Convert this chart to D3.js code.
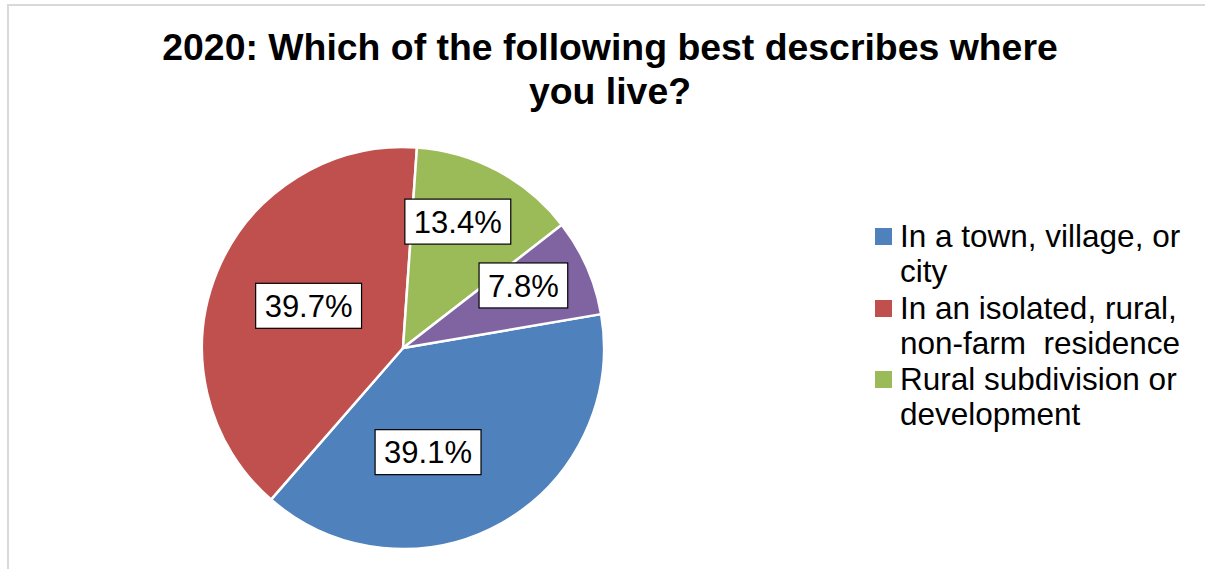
<!DOCTYPE html>
<html>
<head>
<meta charset="utf-8">
<script src="https://cdn.jsdelivr.net/npm/d3@7"></script>
<style>
  html, body { margin: 0; padding: 0; background: #fff; }
  svg { display: block; }
</style>
</head>
<body>
<svg id="chart" width="1205" height="569"></svg>
<script>
// data
const categories = [
  "In a town, village, or city",
  "In an isolated, rural, non-farm  residence",
  "Rural subdivision or development",
  "On a farm"
];
const values = [39.1, 39.7, 13.4, 7.8];
const colors = ["#4F81BD", "#C0504D", "#9BBB59", "#8064A2"];
// legend text as wrapped in the original (4th entry is cut off there)
const legendLines = [
  ["In a town, village, or", "city"],
  ["In an isolated, rural,", "non-farm  residence"],
  ["Rural subdivision or", "development"]
];
const titleLines = ["2020: Which of the following best describes where", "you live?"];

const width = 1205, height = 569;
const cx = 403, cy = 348, radius = 201;
const font = "Arial, 'Liberation Sans', sans-serif";

// label nudges so boxes land where Excel's best-fit put them
const labelNudge = [[-34, -1], [17, 4], [-2, -20], [10, -14]];

const svg = d3.select('#chart');

// chart frame
svg.append('rect')
  .attr('x', 8).attr('y', 5)
  .attr('width', width + 20).attr('height', height + 20)
  .attr('fill', '#fff')
  .attr('stroke', '#d9d9d9')
  .attr('stroke-width', 2);

// title
svg.append('text')
  .attr('x', 610)
  .attr('y', 60)
  .attr('text-anchor', 'middle')
  .style('font-family', font)
  .style('font-size', '37.4px')
  .style('font-weight', 'bold')
  .style('fill', '#000')
  .selectAll('tspan')
  .data(titleLines)
  .join('tspan')
  .attr('x', 610)
  .attr('dy', (d, i) => i === 0 ? 0 : 44)
  .text(d => d);

// pie
const pie = d3.pie()
  .sort(null)
  .startAngle(80.3 * Math.PI / 180)
  .endAngle(80.3 * Math.PI / 180 + 2 * Math.PI);

const arcs = pie(values);
const arc = d3.arc().innerRadius(0).outerRadius(radius);
const labelArc = d3.arc().innerRadius(radius * 0.6).outerRadius(radius * 0.6);

const g = svg.append('g')
  .attr('transform', `translate(${cx},${cy})`);

g.selectAll('path')
  .data(arcs)
  .join('path')
  .attr('d', arc)
  .attr('fill', (d, i) => colors[i])
  .attr('stroke', '#fff')
  .attr('stroke-width', 2.5)
  .attr('stroke-linejoin', 'round');

// data labels
const labels = g.selectAll('g.lbl')
  .data(arcs)
  .join('g')
  .attr('class', 'lbl')
  .attr('transform', (d, i) => {
    const [x, y] = labelArc.centroid(d);
    return `translate(${x + labelNudge[i][0]},${y + labelNudge[i][1]})`;
  });

labels.append('rect')
  .attr('fill', '#fff')
  .attr('stroke', '#000')
  .attr('stroke-width', 1.2);

labels.append('text')
  .attr('text-anchor', 'middle')
  .attr('dy', '0.36em')
  .style('font-family', font)
  .style('font-size', '31px')
  .style('fill', '#000')
  .text(d => d.data.toFixed(1) + '%');

labels.each(function() {
  const t = d3.select(this).select('text').node().getBBox();
  d3.select(this).select('rect')
    .attr('x', -t.width / 2 - 9)
    .attr('y', -22.5)
    .attr('width', t.width + 18)
    .attr('height', 45);
});

// legend
const legend = svg.append('g')
  .attr('transform', 'translate(875,0)');

const itemY = [247, 319, 390];
const item = legend.selectAll('g')
  .data(legendLines)
  .join('g')
  .attr('transform', (d, i) => `translate(0,${itemY[i]})`);

item.append('rect')
  .attr('x', 0)
  .attr('y', -19)
  .attr('width', 17)
  .attr('height', 17)
  .attr('fill', (d, i) => colors[i]);

item.append('text')
  .style('font-family', font)
  .style('font-size', '31.5px')
  .style('fill', '#000')
  .style('white-space', 'pre')
  .selectAll('tspan')
  .data(d => d)
  .join('tspan')
  .attr('x', 25)
  .attr('y', (d, i) => i * 35)
  .text(d => d);
</script>
</body>
</html>
